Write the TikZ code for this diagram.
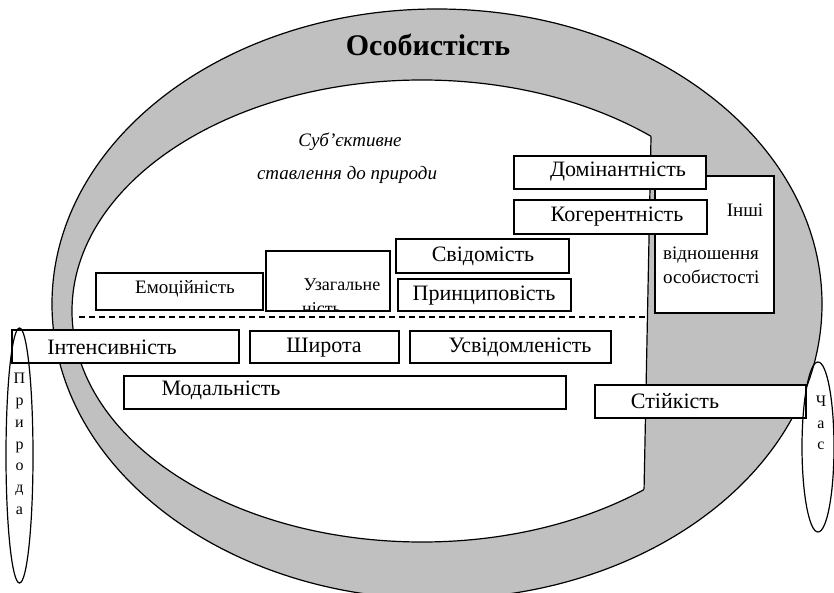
\documentclass[tikz,border=0pt]{standalone}
\usepackage{fontspec}
\setmainfont{Liberation Serif}
\usetikzlibrary{shapes.geometric}
\definecolor{band}{RGB}{192,192,192}
\begin{document}
\begin{tikzpicture}[x=1pt,y=-1pt,
  box/.style={draw, fill=white, line width=1.2pt, rectangle, inner sep=0pt},
  lbl/.style={inner sep=0pt, font=\fontsize{22}{26}\selectfont},
  smalllbl/.style={inner sep=0pt, font=\fontsize{19}{23}\selectfont},
  itlbl/.style={inner sep=0pt, font=\fontsize{19}{23}\selectfont\itshape},
  oval/.style={draw, ellipse, line width=1.2pt, inner sep=0pt},
  sepline/.style={line width=1.2pt, dash pattern=on 6pt off 4pt}]
\useasboundingbox (0,0) rectangle (834,593);
% grey band of the personality ellipse
\fill[band] (437,304) ellipse [x radius=385pt, y radius=295pt];
\begin{scope}
  \clip (0,0) -- (653.7,0) -- (642,593) -- (0,593) -- cycle;
  \fill[white] (422,311) ellipse [x radius=350pt, y radius=231pt];
  \draw[line width=1.2pt] (422,311) ellipse [x radius=350pt, y radius=231pt];
\end{scope}
\begin{scope}
  \clip (422,311) ellipse [x radius=350pt, y radius=231pt];
  \draw[line width=1.2pt] (653.7,0) -- (642,593);
\end{scope}
\draw[line width=1.2pt] (437,304) ellipse [x radius=385pt, y radius=295pt];

% title and subtitle
\node[inner sep=0pt, font=\fontsize{30}{36}\selectfont\bfseries] (title) at (428,45) {Особистість};
\node[itlbl] (subj1) at (350,142) {Суб’єктивне};
\node[itlbl] (subj2) at (347,175) {ставлення до природи};

% dashed separator
\coordinate (dashL) at (79,317);
\coordinate (dashR) at (648,317);
\draw[sepline] (dashL) -- (dashR);

% boxes
\node[box, minimum width=119pt, minimum height=137pt] (inshi) at (714.5,244.5) {};
\node[box, minimum width=192pt, minimum height=33pt] (dom) at (610,172.5) {};
\node[box, minimum width=193pt, minimum height=34pt] (kog) at (610.5,217) {};
\node[box, minimum width=173pt, minimum height=34pt] (svid) at (482.5,256) {};
\node[box, minimum width=173pt, minimum height=32pt] (pryn) at (484.5,295) {};
\node[box, minimum width=124pt, minimum height=60pt] (uzag) at (328,281) {};
\node[box, minimum width=167pt, minimum height=37pt] (emoc) at (179.5,291.5) {};
\node[box, minimum width=227pt, minimum height=33pt] (inten) at (125.5,346.5) {};
\node[box, minimum width=149pt, minimum height=32pt] (shyr) at (324.5,347) {};
\node[box, minimum width=201pt, minimum height=32pt] (usvid) at (510.5,347) {};
\node[box, minimum width=442pt, minimum height=33pt] (modal) at (345,392.5) {};
\node[box, minimum width=211pt, minimum height=33pt] (stiyk) at (700.5,401.5) {};

% side ellipses
\node[oval, minimum width=27pt, minimum height=255pt] (pryroda) at (19.5,455.5) {};
\node[oval, minimum width=32pt, minimum height=170pt] (chas) at (818,447) {};

% labels
\node[lbl] (domT) at (618,172) {Домінантність};
\node[lbl] (kogT) at (617,217) {Когерентність};
\node[lbl] (svidT) at (483,256) {Свідомість};
\node[lbl] (prynT) at (484,296) {Принциповість};
\node[smalllbl] (emocT) at (185,289) {Емоційність};
\node[inner sep=0pt, font=\fontsize{18}{21}\selectfont] (uzagT) at (342,285) {Узагальне};
\begin{scope}
  \clip (uzag.north west) rectangle (uzag.south east);
  \node[inner sep=0pt, anchor=north west, font=\fontsize{18}{21}\selectfont] (uzagT2) at (302,302) {ність};
\end{scope}
\node[lbl] (intenT) at (112,347) {Інтенсивність};
\node[lbl] (shyrT) at (324,348) {Широта};
\node[lbl] (usvidT) at (520,347) {Усвідомленість};
\node[lbl] (modalT) at (221,390) {Модальність};
\node[lbl] (stiykT) at (675,401) {Стійкість};
\node[smalllbl] (inshiT1) at (745,210) {Інші};
\node[smalllbl, anchor=west] (inshiT2) at (663,255) {відношення};
\node[smalllbl, anchor=west] (inshiT3) at (663,277) {особистості};
\node[inner sep=0pt, align=center, font=\fontsize{16}{21.8}\selectfont] (pryrodaT) at (19.5,444) {П\\р\\и\\р\\о\\д\\а};
\node[inner sep=0pt, align=center, font=\fontsize{16}{21.5}\selectfont] (chasT) at (821,423) {Ч\\а\\с};
\end{tikzpicture}
\end{document}
